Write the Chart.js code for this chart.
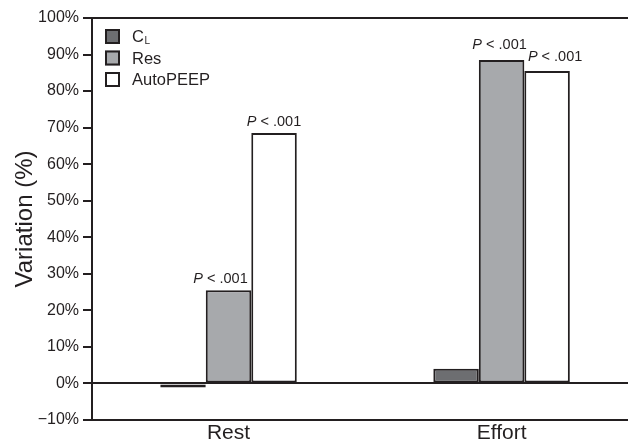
<!DOCTYPE html>
<html>
<head>
<meta charset="utf-8">
<script src="https://cdn.jsdelivr.net/npm/chart.js@4"></script>
<style>
  html, body { margin: 0; padding: 0; background: #fff; }
  #wrap { width: 628px; height: 442px; }
</style>
</head>
<body>
<div id="wrap"><canvas id="c" width="628" height="442"></canvas></div>
<script>
// ---- data ----
const categories = ['Rest', 'Effort'];
const categoryPos = [0, 1];
const clValues = [-1.1, 4];
const resValues = [25.5, 88.5];
const autoPeepValues = [68.5, 85.5];
const yTicks = [-10, 0, 10, 20, 30, 40, 50, 60, 70, 80, 90, 100];
const seriesNames = ['CL', 'Res', 'AutoPEEP'];
// significance labels: [datasetIndex, categoryIndex]
const sigMarks = [[1, 0], [2, 0], [1, 1], [2, 1]];
const sigText = ' < .001';

const INK = '#231f20';
const FONT = '"Liberation Sans", Arial, sans-serif';

const overlay = {
  id: 'overlay',
  afterDatasetsDraw(chart) {
    const ctx = chart.ctx;
    const a = chart.chartArea;
    const y = chart.scales.y;
    ctx.save();
    ctx.strokeStyle = INK;
    ctx.lineWidth = 2;
    // top frame line
    ctx.beginPath();
    ctx.moveTo(a.left - 1, a.top);
    ctx.lineTo(a.right, a.top);
    ctx.stroke();
    // zero line
    const y0 = Math.round(y.getPixelForValue(0));
    ctx.beginPath();
    ctx.moveTo(a.left, y0);
    ctx.lineTo(a.right, y0);
    ctx.stroke();

    // significance labels
    const offsets = {'1,0': -8, '2,0': 0, '1,1': -2, '2,1': 8};
    const lift = {'1,0': 7, '2,0': 7, '1,1': 11, '2,1': 10};
    ctx.fillStyle = INK;
    ctx.textBaseline = 'alphabetic';
    sigMarks.forEach(([ds, ci]) => {
      const el = chart.getDatasetMeta(ds).data[ci];
      const key = ds + ',' + ci;
      ctx.font = 'italic 14.5px ' + FONT;
      const wP = ctx.measureText('P').width;
      ctx.font = '14.5px ' + FONT;
      const wR = ctx.measureText(sigText).width;
      const total = wP + wR;
      const x0 = el.x + offsets[key] - total / 2;
      const yb = el.y - lift[key];
      ctx.font = 'italic 14.5px ' + FONT;
      ctx.textAlign = 'left';
      ctx.fillText('P', x0, yb);
      ctx.font = '14.5px ' + FONT;
      ctx.fillText(sigText, x0 + wP, yb);
    });

    // legend
    const lx = a.left + 13, ly = a.top + 11, step = 21.5, box = 15;
    chart.data.datasets.forEach((d, i) => {
      const by = ly + i * step;
      ctx.fillStyle = d.backgroundColor;
      ctx.fillRect(lx, by, box, box);
      ctx.strokeStyle = INK;
      ctx.lineWidth = 2;
      ctx.strokeRect(lx + 1, by + 1, box - 2, box - 2);
      ctx.fillStyle = INK;
      ctx.textAlign = 'left';
      ctx.textBaseline = 'middle';
      const tx = lx + box + 12;
      const ty = by + box / 2 + 1;
      if (d.label === 'CL') {
        ctx.font = '16.5px ' + FONT;
        ctx.fillText('C', tx, ty);
        const wc = ctx.measureText('C').width;
        ctx.font = '10px ' + FONT;
        ctx.fillText('L', tx + wc + 0.5, ty + 4);
      } else {
        ctx.font = '16.5px ' + FONT;
        ctx.fillText(d.label, tx, ty);
      }
    });
    ctx.restore();
  }
};

const mk = (label, vals, color) => ({
  label,
  data: categoryPos.map((x, i) => ({x, y: vals[i]})),
  backgroundColor: color,
  borderColor: INK,
  borderWidth: 2,
  borderSkipped: false,
  categoryPercentage: 0.5,
  barPercentage: 1.0
});

new Chart(document.getElementById('c'), {
  type: 'bar',
  data: {
    datasets: [
      mk(seriesNames[0], clValues, '#6d6e71'),
      mk(seriesNames[1], resValues, '#a7a9ac'),
      mk(seriesNames[2], autoPeepValues, '#ffffff')
    ]
  },
  options: {
    responsive: false,
    animation: false,
    devicePixelRatio: 1,
    layout: { padding: { top: 18, right: 0, left: 0, bottom: 0 } },
    plugins: { legend: { display: false }, tooltip: { enabled: false } },
    scales: {
      x: {
        type: 'linear',
        offset: false,
        min: -0.5,
        max: 1.463,
        afterBuildTicks: s => { s.ticks = categoryPos.map(v => ({value: v})); },
        afterFit: s => { s.height = 22; },
        grid: { display: false, drawTicks: false, offset: false },
        border: { display: true, color: INK, width: 2 },
        ticks: {
          padding: 1,
          color: INK,
          font: { family: FONT, size: 21 },
          callback: v => categories[categoryPos.indexOf(v)] ?? ''
        }
      },
      y: {
        min: -10,
        max: 100,
        afterBuildTicks: s => { s.ticks = yTicks.map(v => ({value: v})); },
        afterFit: s => { s.width = 92; },
        grid: { drawOnChartArea: false, drawTicks: true, tickLength: 9, color: INK, tickColor: INK, lineWidth: 2 },
        border: { display: true, color: INK, width: 2 },
        ticks: {
          padding: 4,
          color: INK,
          font: { family: FONT, size: 16 },
          callback: v => (v < 0 ? '\u2212' + Math.abs(v) : v) + '%'
        },
        title: {
          display: true,
          text: 'Variation (%)',
          color: INK,
          font: { family: FONT, size: 24 },
          padding: { top: 11, bottom: 0 }
        }
      }
    }
  },
  plugins: [overlay]
});
</script>
</body>
</html>
